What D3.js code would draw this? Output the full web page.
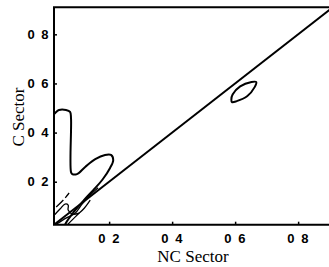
<!DOCTYPE html>
<html>
<head>
<meta charset="utf-8">
<script src="https://cdn.jsdelivr.net/npm/d3@7"></script>
<style>
  body { margin: 0; background: #fff; }
</style>
</head>
<body>
<div id="chart"></div>
<script>
// axis ticks (decimal point lost in the scan, shown as "0 2")
const xTicks = [0.2, 0.4, 0.6, 0.8]
const yTicks = [0.2, 0.4, 0.6, 0.8]
const tickLabels = ["0 2", "0 4", "0 6", "0 8"]

// outer contour (L-shape with a lobe), runs off the axes and gets clipped
const outerContour = [
  [0.013, 0.459], [0.029, 0.480], [0.041, 0.492], [0.063, 0.492], [0.076, 0.484],
  [0.079, 0.459], [0.079, 0.239], [0.083, 0.231], [0.098, 0.231], [0.124, 0.260],
  [0.156, 0.292], [0.187, 0.309], [0.206, 0.309], [0.213, 0.288], [0.203, 0.256],
  [0.178, 0.207], [0.149, 0.165], [0.120, 0.125], [0.090, 0.080], [0.062, 0.030],
  [0.050, -0.010]
]
// inner contour pieces near the origin
const innerA = [[0.032, 0.027], [0.063, 0.052], [0.092, 0.072], [0.114, 0.109], [0.140, 0.146], [0.165, 0.175]]
const innerB = [[0.063, 0.019], [0.095, 0.060], [0.121, 0.092], [0.140, 0.125]]
const innerC = [[0.020, 0.056], [0.044, 0.089], [0.060, 0.109], [0.070, 0.105], [0.070, 0.085], [0.083, 0.068], [0.105, 0.072]]
const innerD = [[0.032, 0.097], [0.055, 0.126], [0.073, 0.154]]
// small closed contour near (0.63, 0.57)
const ellipse = [[0.590, 0.524], [0.605, 0.528], [0.638, 0.548], [0.662, 0.585], [0.667, 0.606],
  [0.652, 0.606], [0.616, 0.588], [0.592, 0.555], [0.588, 0.535]]
// diagonal reference line y = x
const diagonal = [[0.0, 0.0], [1.0, 1.0]]

const width = 329
const height = 267
const mLeft = 54, mRight = 329, mTop = 7.3, mBottom = 224.7

const svg = d3.select("#chart")
  .append("svg")
    .attr("width", width)
    .attr("height", height)

const x = d3.scaleLinear().domain([0.025, 0.898]).range([mLeft, mRight])
const y = d3.scaleLinear().domain([0.025, 0.91]).range([mBottom, mTop])

svg.append("clipPath").attr("id", "clip")
  .append("rect")
    .attr("x", mLeft).attr("y", mTop)
    .attr("width", mRight - mLeft).attr("height", mBottom - mTop)

const plot = svg.append("g").attr("clip-path", "url(#clip)")

const line = d3.line().x(d => x(d[0])).y(d => y(d[1]))
const smooth = d3.line().x(d => x(d[0])).y(d => y(d[1])).curve(d3.curveCatmullRom)
const closed = d3.line().x(d => x(d[0])).y(d => y(d[1])).curve(d3.curveCatmullRomClosed)

plot.append("path").attr("d", line(diagonal))
  .attr("fill", "none").attr("stroke", "#000").attr("stroke-width", 2)

plot.append("path").attr("d", smooth(outerContour))
  .attr("fill", "none").attr("stroke", "#000").attr("stroke-width", 2)

;[innerA, innerB, innerC].forEach(c => {
  plot.append("path").attr("d", smooth(c))
    .attr("fill", "none").attr("stroke", "#000").attr("stroke-width", 1.3)
})
plot.append("path").attr("d", smooth(innerD))
  .attr("fill", "none").attr("stroke", "#000").attr("stroke-width", 1.3)
  .attr("stroke-dasharray", "10,3")

plot.append("path").attr("d", closed(ellipse))
  .attr("fill", "none").attr("stroke", "#000").attr("stroke-width", 2)

// axes, ticks point inwards
const xAxis = svg.append("g")
  .attr("transform", `translate(0,${mBottom})`)
  .call(d3.axisBottom(x).tickValues(xTicks).tickSize(-3).tickPadding(9)
    .tickFormat((d, i) => tickLabels[i]))
const yAxis = svg.append("g")
  .attr("transform", `translate(${mLeft},0)`)
  .call(d3.axisLeft(y).tickValues(yTicks).tickSize(-3).tickPadding(4)
    .tickFormat((d, i) => tickLabels[i]))

;[xAxis, yAxis].forEach(a => {
  a.select(".domain").remove()
  a.selectAll(".tick line").attr("stroke", "#000").attr("stroke-width", 1.5)
  a.selectAll(".tick text")
    .style("font-family", "'Liberation Sans', Arial, sans-serif")
    .style("font-weight", "bold")
    .style("font-size", "13px")
    .style("letter-spacing", "1.5px")
    .attr("fill", "#000")
})

// frame: left, bottom, top
svg.append("path")
  .attr("d", `M${mRight},${mTop}H${mLeft}V${mBottom}H${mRight}`)
  .attr("fill", "none").attr("stroke", "#000").attr("stroke-width", 2)

svg.append("text")
  .attr("x", 193).attr("y", 262)
  .attr("text-anchor", "middle")
  .style("font-family", "'Liberation Serif', 'Times New Roman', serif")
  .style("font-size", "17px")
  .text("NC Sector")

svg.append("text")
  .attr("transform", "translate(24,117) rotate(-90)")
  .attr("text-anchor", "middle")
  .style("font-family", "'Liberation Serif', 'Times New Roman', serif")
  .style("font-size", "17px")
  .text("C Sector")
</script>
</body>
</html>
